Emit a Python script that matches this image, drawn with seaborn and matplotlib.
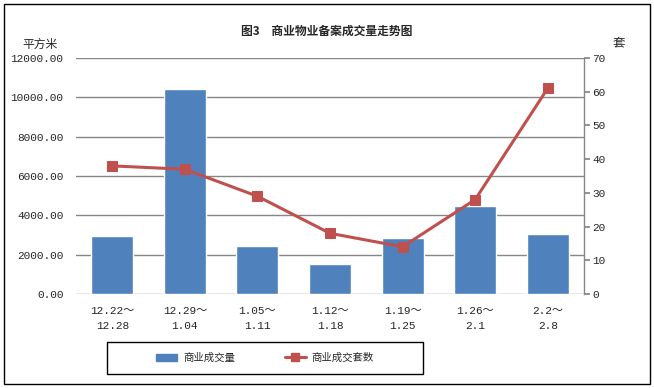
import numpy as np
import pandas as pd
import matplotlib
matplotlib.use("Agg")
import matplotlib.pyplot as plt
import seaborn as sns
from matplotlib.patches import Patch, Rectangle
from matplotlib.lines import Line2D

categories = ["12.22～\n12.28", "12.29～\n1.04", "1.05～\n1.11", "1.12～\n1.18",
              "1.19～\n1.25", "1.26～\n2.1", "2.2～\n2.8"]
area = [2950, 10420, 2440, 1530, 2860, 4480, 3050]
units = [38, 37, 29, 18, 14, 28, 61]
left_ticks = [0, 2000, 4000, 6000, 8000, 10000, 12000]
right_ticks = [0, 10, 20, 30, 40, 50, 60, 70]

sns.set_theme(style="white")
plt.rcParams['font.family'] = ['Noto Sans CJK SC', 'DejaVu Sans']
mono = ['Liberation Mono', 'Noto Sans CJK SC', 'DejaVu Sans']

bar_color = "#4F81BD"
line_color = "#C0504D"
grid_color = "#868686"

df = pd.DataFrame({"cat": categories, "area": area, "units": units,
                   "pos": np.arange(len(categories))})

fig = plt.figure(figsize=(6.54, 3.88), dpi=100)
ax = fig.add_axes([76/654, 1-294/388, 508/654, 236/388])

sns.barplot(data=df, x="cat", y="area", color=bar_color, width=0.58,
            saturation=1, ax=ax)
ax.set_ylim(0, 12000)
ax.set_yticks(left_ticks)
ax.set_yticklabels([f"{v}.00" for v in left_ticks], fontsize=8, family=mono)
for t in ax.get_xticklabels():
    t.set_family(mono)
    t.set_fontsize(8)
    t.set_linespacing(1.55)
ax.set_xlim(-0.5, len(categories) - 0.5)
ax.set_xlabel("")
ax.set_ylabel("")
ax.tick_params(axis="x", length=0, pad=9)
ax.tick_params(axis="y", length=0, pad=9)
for y in left_ticks:
    ax.axhline(y, color=grid_color, lw=1, zorder=0)
ax.set_axisbelow(True)
for s in ["top", "left", "right", "bottom"]:
    ax.spines[s].set_visible(False)

ax2 = ax.twinx()
sns.lineplot(data=df, x="pos", y="units", color=line_color, lw=2.2,
             marker="s", markersize=7, markeredgecolor=line_color, ax=ax2)
ax2.set_ylim(0, 70)
ax2.set_yticks(right_ticks)
ax2.set_yticklabels([str(v) for v in right_ticks], fontsize=8, family=mono)
ax2.set_ylabel("")
ax2.set_xlabel("")
ax2.set_xlim(-0.5, len(categories) - 0.5)
for s in ["top", "left", "bottom"]:
    ax2.spines[s].set_visible(False)
ax2.spines["right"].set_color(grid_color)
ax2.spines["right"].set_linewidth(1)
ax2.tick_params(axis="y", direction="out", length=4, color=grid_color, pad=2, right=True)

fig.text(327/654, 1-31/388, "图3　商业物业备案成交量走势图", ha="center", va="center",
         fontsize=8.5, fontweight="bold")
fig.text(40/654, 1-44/388, "平方米", ha="center", va="center", fontsize=8.5)
fig.text(619/654, 1-43/388, "套", ha="center", va="center", fontsize=9)

handles = [Patch(facecolor=bar_color, edgecolor=bar_color),
           Line2D([0], [0], color=line_color, lw=2.2, marker="s", markersize=6)]
leg = fig.legend(handles, ["商业成交量", "商业成交套数"], loc="center",
                 bbox_to_anchor=(265/654, 1-358/388), ncol=2, frameon=False,
                 fontsize=7.5, columnspacing=4.8, handlelength=2.0,
                 handletextpad=0.55)

fig.patches.append(Rectangle((107/654, 1-374/388), 316/654, 32/388,
                             transform=fig.transFigure, fill=False,
                             edgecolor="black", lw=1))
fig.patches.append(Rectangle((4/654, 4/388), 646/654, 380/388, transform=fig.transFigure,
                             fill=False, edgecolor="black", lw=1))

fig.savefig("out.png", dpi=100)
